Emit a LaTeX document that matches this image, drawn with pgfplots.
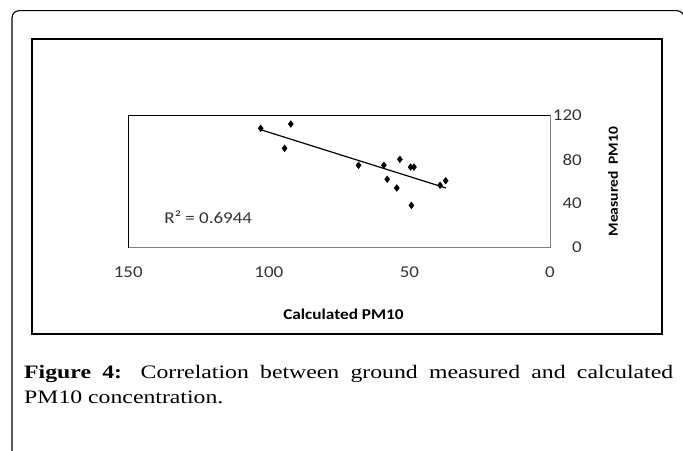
\documentclass[border=0pt]{standalone}
\usepackage{fontspec}
\setmainfont[FakeStretch=1.25]{Liberation Serif}
\newfontfamily\chartfont[FakeStretch=1.15]{Carlito}
\newfontfamily\chartplain{Carlito}
\usepackage{graphicx}
\usepackage{pgfplots}
\pgfplotsset{compat=1.18}

\begin{document}
\begin{tikzpicture}
    \useasboundingbox (0pt,0pt) rectangle (683pt,450pt);
    % page frame and figure box
    \draw[line width=1.1pt, rounded corners=7pt] (12pt,-5pt) -- (12pt,439.3pt) -- (684pt,439.3pt) -- (684pt,400pt);
    \draw[line width=2pt] (32.3pt,115.7pt) rectangle (662.3pt,410.7pt);

    \begin{axis}[
            at={(128.3pt,202.3pt)}, anchor=south west,
            scale only axis, width=421.7pt, height=132.4pt,
            xmin=0, xmax=150, ymin=0, ymax=120,
            x dir=reverse,
            xtick={0,50,100,150}, ytick={0,40,80,120},
            yticklabel pos=right,
            major tick length=0pt,
            axis line style={black!50, line width=0.8pt},
            tick label style={font=\chartfont\fontsize{16.5}{18}\selectfont, text=black!80},
            /pgf/number format/assume math mode=true,
            xticklabel style={anchor=center, inner sep=0pt, yshift=-25pt},
            yticklabel style={anchor=east, inner sep=0pt, xshift=32pt},
            clip=false,
        ]
        \draw[black, line width=0.8pt] (axis cs:150,0) -- (axis cs:150,120) -- (axis cs:0,120);

        \addplot[only marks, mark=diamond*, mark size=3.4pt, black] coordinates {
                (102.9,108.2) (92.2,112.1) (94.4,90.1) (68.1,74.7) (59.1,74.7)
                (53.4,80.1) (49.6,73.1) (48.4,73.1) (57.9,62.0) (54.5,54.1)
                (49.3,38.4) (39.1,56.6) (37.1,60.7)
            };
        % linear trend line
        \addplot[black, line width=1.2pt, no marks] coordinates {
                (102.6,106.7) (37.0,54.1)
            };

        \node[anchor=west, inner sep=0pt, text=black!80, font=\chartfont\fontsize{16.5}{18}\selectfont]
            at (axis cs:137.2,27.6) {R² = 0.6944};
    \end{axis}

    \node[font=\chartfont\bfseries\fontsize{15}{16}\selectfont] at (343.5pt,136pt) {Calculated PM10};
    \node[rotate=90, font=\chartplain\bfseries\fontsize{15.5}{16}\selectfont] at (613pt,268.3pt)
        {\scalebox{1}[0.9]{Measured\ \ PM10}};

    \node[anchor=base west, text width=649pt, align=justify, inner sep=0pt,
        font=\fontsize{19}{25}\selectfont] at (24pt,71pt)
        {\sloppy\textbf{Figure 4:} Correlation between ground measured and calculated PM10 concentration.};
\end{tikzpicture}
\end{document}
